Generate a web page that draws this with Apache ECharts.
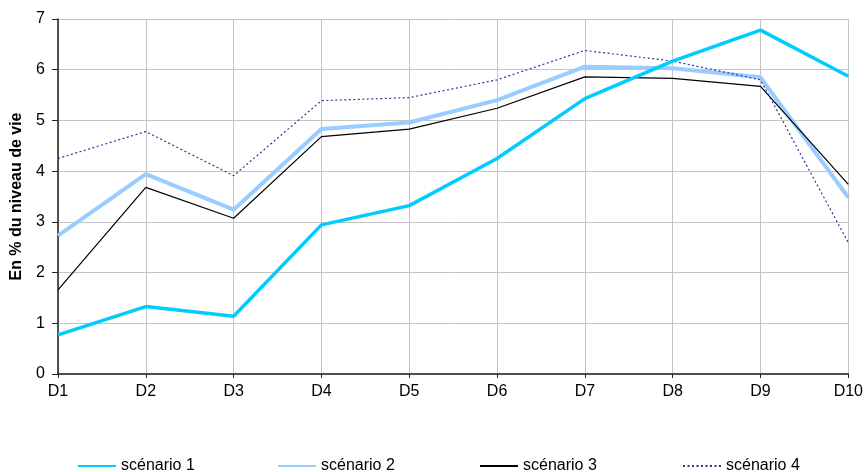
<!DOCTYPE html>
<html>
<head>
<meta charset="utf-8">
<script src="https://cdn.jsdelivr.net/npm/echarts@6/dist/echarts.min.js"></script>
<style>html,body{margin:0;padding:0;background:#fff;}#c{width:866px;height:472px;}</style>
</head>
<body>
<div id="c"></div>
<script>
var categories = ['D1','D2','D3','D4','D5','D6','D7','D8','D9','D10'];
var scenario1 = [0.77, 1.33, 1.14, 2.94, 3.32, 4.25, 5.43, 6.17, 6.78, 5.87];
var scenario2 = [2.73, 3.94, 3.24, 4.83, 4.96, 5.40, 6.06, 6.03, 5.85, 3.48];
var scenario3 = [1.66, 3.68, 3.07, 4.68, 4.83, 5.24, 5.86, 5.83, 5.67, 3.74];
var scenario4 = [4.25, 4.78, 3.91, 5.39, 5.45, 5.80, 6.38, 6.17, 5.80, 2.59];
var seriesNames = ['scénario 1','scénario 2','scénario 3','scénario 4'];
var yTicks = [0,1,2,3,4,5,6,7];

var font = 'Liberation Sans, Arial, sans-serif';
var chart = echarts.init(document.getElementById('c'), null, {renderer:'canvas'});

function leg(name, left){
  return {
    data:[name], left:left, top:458, orient:'horizontal',
    itemWidth:38, itemHeight:14, itemGap:0, padding:0,
    itemStyle:{opacity:0},
    textStyle:{fontSize:16, color:'#000', fontFamily:font}
  };
}

chart.setOption({
  animation:false,
  backgroundColor:'#fff',
  grid:{left:58, right:15, top:19, bottom:98, containLabel:false},
  legend:[leg(seriesNames[0],77), leg(seriesNames[1],277), leg(seriesNames[2],479), leg(seriesNames[3],682)],
  xAxis:{
    type:'category', data:categories, boundaryGap:false,
    axisLine:{lineStyle:{color:'#222', width:1.5}},
    axisTick:{show:true, length:4, lineStyle:{color:'#222'}},
    axisLabel:{color:'#000', fontSize:16, fontFamily:font, margin:10, interval:0},
    splitLine:{show:true, lineStyle:{color:'#c4c4c4', width:1}}
  },
  yAxis:{
    type:'value', min:yTicks[0], max:yTicks[yTicks.length-1], interval:1,
    name:'En % du niveau de vie', nameLocation:'middle', nameGap:33, nameRotate:90,
    nameTextStyle:{fontSize:16, fontWeight:'bold', color:'#000', fontFamily:font},
    axisLine:{show:true, lineStyle:{color:'#222', width:1.5}},
    axisTick:{show:true, length:6, lineStyle:{color:'#222'}},
    axisLabel:{color:'#000', fontSize:16, fontFamily:font, margin:13},
    splitLine:{show:true, lineStyle:{color:'#c4c4c4', width:1}}
  },
  series:[
    {name:seriesNames[0], type:'line', data:scenario1, symbol:'none', z:4,
     lineStyle:{color:'#00ccff', width:3.5}, itemStyle:{color:'#00ccff'}},
    {name:seriesNames[1], type:'line', data:scenario2, symbol:'none', z:3,
     lineStyle:{color:'#99ccff', width:4}, itemStyle:{color:'#99ccff'}},
    {name:seriesNames[2], type:'line', data:scenario3, symbol:'none', z:3,
     lineStyle:{color:'#000000', width:1.2}, itemStyle:{color:'#000000'}},
    {name:seriesNames[3], type:'line', data:scenario4, symbol:'none', z:3,
     lineStyle:{color:'#333399', width:1.2, type:[2,2.5]}, itemStyle:{color:'#333399'}}
  ]
});
</script>
</body>
</html>
